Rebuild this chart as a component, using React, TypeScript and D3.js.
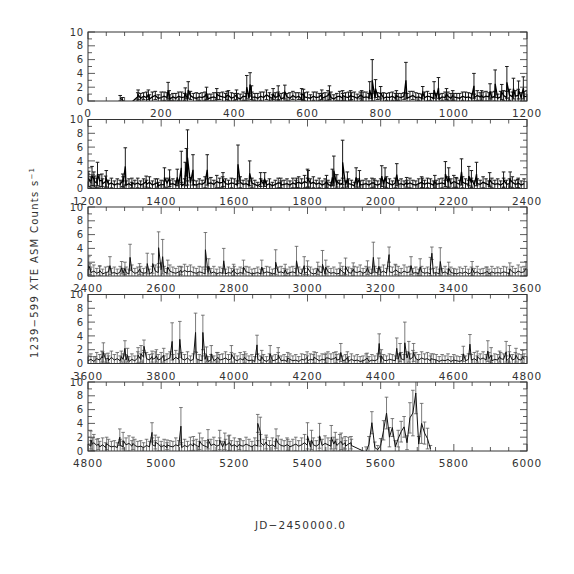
import React from "react";
import * as d3 from "d3";

// one-day ASM rates, binned every 8 days, in tenths of counts/s
const STEP = 8;

const panelStarts = [0, 1200, 2400, 3600, 4800];
const yTicks = [0, 2, 4, 6, 8, 10];

// panel 1 (JD 0-1200)
const p1Early = [[88, 4, 4], [94, 2, 3], [106, -8, 5]];
const p1Rate = [
  6,4,7,5,3,6,8,4,5,7, 5,3,6,4,7,5,6,3,8,5, 4,6,5,7,3,5,6,4,7,6, 5,8,4,6,5,3,7,6,4,5,
  6,4,7,5,9,6,4,5,7,3, 5,6,4,8,5,7,3,6,5,4, 7,5,6,4,6,8,5,3,6,7, 4,6,5,7,6,4,8,5,6,5,
  3,6,7,5,4,6,5,7,4,6, 5,7,4,6,8,5,6,4,5,7, 6,4,5,3,6,5,7,4,6,5, 4,7,5,6,4,5,8,6,5,7,
  6,5,7,4,6,8,5,9,6,7, 8,5,6,7,
];
const p1Err = [
  6,7,5,8,6,7,6,5,8,6, 7,6,5,7,6,8,5,7,6,6, 8,5,7,6,7,5,6,8,5,7, 6,7,8,5,6,7,6,5,7,8,
  5,7,6,8,7,6,5,7,6,8, 7,5,8,6,7,5,7,6,8,5, 6,8,5,7,6,7,8,6,5,7, 7,6,8,5,7,6,5,8,7,6,
  8,7,5,6,8,5,7,6,7,5, 6,5,7,8,6,7,5,6,8,7, 5,7,6,7,5,8,6,7,5,6, 7,6,8,6,7,5,7,6,8,7,
  6,8,7,6,8,7,9,8,7,8, 9,7,8,8,
];
const p1Spikes = [
  [137,9,7],[165,9,7],[219,15,12],[222,8,7],[266,11,8],[274,16,12],[324,11,9],[352,10,8],
  [380,8,6],[406,9,7],[434,20,17],[443,24,17],[447,12,10],[506,10,8],[520,12,10],[538,13,10],
  [584,10,8],[589,9,8],[639,9,7],[660,12,10],[696,8,7],[718,8,7],[748,8,7],[770,16,12],
  [777,30,30],[786,18,13],[800,12,9],[843,8,7],[869,30,26],[915,12,9],[946,16,12],[958,19,15],
  [980,10,8],[997,8,7],[1055,22,18],[1076,8,7],[1099,14,11],[1113,25,20],[1131,13,11],
  [1145,27,23],[1163,18,15],[1177,16,13],[1190,19,16],
];

// panel 2 (JD 1200-2400)
const p2Rate = [
  12,9,14,8,11,7,10,6,8,5, 7,6,9,5,7,4,6,8,5,7, 6,9,5,7,4,6,5,8,6,7, 5,6,4,7,5,8,6,5,7,6,
  9,7,8,6,10,8,9,7,6,8, 7,5,9,6,7,5,8,6,4,7, 6,5,7,4,6,8,5,6,7,5, 8,6,9,7,10,8,7,9,6,8,
  5,7,6,4,7,5,6,8,5,7, 6,4,7,5,6,7,5,8,6,5, 7,6,9,7,5,8,6,7,5,6, 8,6,5,7,9,6,8,7,5,6,
  7,8,6,9,7,10,8,6,9,7, 6,8,5,7,6,9,7,5,8,6, 7,5,8,6,7,9,6,8,5,7,
];
const p2Err = [
  9,8,10,7,9,7,8,6,7,6, 7,6,8,6,7,5,6,7,6,7, 6,8,6,7,5,6,6,7,6,7, 6,6,5,7,6,8,6,6,7,6,
  8,7,8,6,9,7,8,7,6,7, 7,6,8,6,7,6,7,6,5,7, 6,6,7,5,6,7,6,6,7,6, 7,6,8,7,9,7,7,8,6,7,
  6,7,6,5,7,6,6,7,6,7, 6,5,7,6,6,7,6,7,6,6, 7,6,8,7,6,7,6,7,6,6, 7,6,6,7,8,6,7,7,6,6,
  7,7,6,8,7,9,7,6,8,7, 6,7,6,7,6,8,7,6,7,6, 7,6,7,6,7,8,6,7,6,7,
];
const p2Spikes = [
  [1202,14,11],[1211,18,14],[1218,10,8],[1226,21,17],[1238,12,9],[1250,14,12],[1295,12,9],
  [1302,32,27],[1320,8,7],[1359,10,8],[1390,8,6],[1409,16,14],[1423,15,12],[1444,16,12],
  [1455,30,24],[1466,21,17],[1469,38,20],[1472,45,40],[1487,27,22],[1526,27,22],[1569,13,10],
  [1610,35,28],[1642,22,18],[1672,13,10],[1683,13,10],[1727,8,7],[1770,8,7],[1800,15,13],
  [1802,14,12],[1852,10,9],[1868,16,12],[1872,26,21],[1880,11,9],[1896,38,32],[1909,13,11],
  [1933,16,14],[1942,14,12],[1982,8,6],[2003,18,15],[2012,16,14],[2044,20,16],[2071,9,7],
  [2114,8,7],[2148,10,9],[2177,21,18],[2186,16,14],[2206,9,7],[2221,24,19],[2241,18,14],
  [2248,14,12],[2262,21,17],[2298,13,10],[2336,13,11],[2354,13,11],[2375,7,6],
];

// panel 3 (JD 2400-3600)
const p3Rate = [
  8,5,7,4,6,3,5,6,4,5, 3,6,4,5,3,7,4,5,6,4, 5,3,6,7,5,9,6,4,7,5, 4,6,5,8,6,7,5,4,6,5,
  3,5,4,6,3,5,4,3,5,4, 6,3,5,4,6,5,3,4,5,3, 4,6,5,3,4,5,6,4,3,5, 6,4,5,3,4,6,5,3,4,6,
  5,3,6,4,5,3,4,6,3,5, 4,6,5,7,4,6,5,3,6,4, 5,7,4,6,5,8,6,4,7,5, 6,4,5,3,6,4,5,3,4,5,
  3,4,6,3,5,4,3,5,4,6, 3,5,4,6,3,4,5,3,6,4, 5,4,6,5,3,6,4,7,5,6,
];
const p3Err = [
  9,8,9,7,8,7,8,8,7,8, 7,8,7,8,7,9,7,8,8,7, 8,7,8,9,8,10,8,7,9,8, 7,8,8,9,8,9,8,7,8,8,
  7,8,7,8,7,8,7,7,8,7, 8,7,8,7,8,8,7,7,8,7, 7,8,8,7,7,8,8,7,7,8, 8,7,8,7,7,8,8,7,7,8,
  8,7,8,7,8,7,7,8,7,8, 7,8,8,9,7,8,8,7,8,7, 8,9,7,8,8,9,8,7,9,8, 8,7,8,7,8,7,8,7,7,8,
  7,7,8,7,8,7,7,8,7,8, 7,8,7,8,7,7,8,7,8,7, 8,7,8,8,7,8,7,9,8,8,
];
const p3Spikes = [
  [2402,15,13],[2406,10,8],[2432,8,7],[2460,15,13],[2492,12,9],[2501,11,9],[2515,27,19],
  [2541,10,8],[2562,18,15],[2577,18,14],[2593,41,23],[2604,28,25],[2618,13,10],[2654,8,6],
  [2721,38,25],[2730,14,11],[2771,22,18],[2798,9,8],[2825,13,10],[2875,13,10],[2913,20,18],
  [2939,9,8],[2970,22,21],[2991,15,13],[3000,12,10],[3028,11,9],[3041,17,20],[3050,13,10],
  [3089,10,9],[3104,14,12],[3125,10,9],[3164,12,10],[3180,27,22],[3195,14,12],[3223,31,11],
  [3241,9,7],[3283,15,13],[3308,13,12],[3336,14,13],[3340,33,9],[3363,21,20],[3386,11,9],
  [3450,11,10],[3491,7,6],[3553,10,9],[3597,11,10],
];

// panel 4 (JD 3600-4800)
const p4Rate = [
  4,6,3,7,5,8,6,4,9,5, 7,4,6,5,3,6,4,8,6,9, 7,5,6,8,5,7,4,6,8,5, 9,6,7,5,8,4,6,7,5,4,
  6,3,5,4,7,5,6,8,5,7, 6,4,7,5,6,4,5,3,6,4, 5,3,6,4,5,7,4,5,3,6, 4,5,3,6,5,4,6,5,7,4,
  6,5,8,6,7,5,6,4,5,3, 6,4,5,3,4,6,3,5,4,6, 3,5,4,6,5,4,6,7,5,8, 6,9,7,5,8,6,7,4,6,5,
  3,5,4,6,3,5,4,3,5,4, 6,5,7,4,6,8,5,7,4,6, 5,7,6,4,8,5,7,6,5,6,
];
const p4Err = [
  8,8,7,9,8,9,8,7,9,8, 9,7,8,8,7,8,7,9,8,10, 9,8,8,9,8,9,7,8,9,8, 10,8,9,8,9,7,8,9,8,7,
  8,7,8,7,9,8,8,9,8,9, 8,7,9,8,8,7,8,7,8,7, 8,7,8,7,8,9,7,8,7,8, 7,8,7,8,8,7,8,8,9,7,
  8,8,9,8,9,8,8,7,8,7, 8,7,8,7,7,8,7,8,7,8, 7,8,7,8,8,7,8,9,8,9, 8,10,9,8,9,8,9,7,8,8,
  7,8,7,8,7,8,7,7,8,7, 8,8,9,7,8,9,8,9,7,8, 8,9,8,7,9,8,9,8,8,8,
];
const p4Spikes = [
  [3620,5,5],[3638,10,8],[3642,16,14],[3655,8,7],[3691,10,8],[3701,22,11],[3708,12,10],
  [3737,12,11],[3745,14,12],[3753,25,9],[3775,10,8],[3787,11,9],[3807,12,10],[3830,32,27],
  [3851,35,26],[3894,45,28],[3914,45,25],[3924,13,11],[3937,14,12],[3955,9,7],[3992,14,12],
  [4028,9,8],[4062,27,14],[4075,10,9],[4098,14,12],[4120,12,11],[4146,8,8],[4199,9,8],
  [4218,9,8],[4250,8,7],[4278,9,8],[4291,16,13],[4309,9,8],[4363,8,7],[4396,29,14],
  [4402,11,9],[4444,22,15],[4453,16,13],[4466,30,30],[4477,17,15],[4490,16,13],[4538,7,7],
  [4626,14,11],[4644,28,14],[4664,10,8],[4693,18,15],[4702,12,11],[4725,10,8],[4743,17,15],
  [4752,14,12],[4770,12,10],[4788,10,9],
];

// panel 5 (JD 4800-6000), gap near 5540, ends ~5736
const p5aRate = [
  10,7,12,8,6,9,5,8,6,7, 5,8,6,9,11,7,8,6,7,5, 8,6,9,7,10,6,8,5,7,6, 9,7,5,8,6,10,7,8,6,9,
  7,5,8,10,7,9,6,8,11,7, 9,6,8,7,10,8,6,9,7,12, 8,10,7,9,6,11,8,7,9,6, 8,10,7,9,12,8,6,9,7,10,
  8,11,9,7,10,8,12,9,7,10, 8,
];
const p5aErr = [
  10,8,12,9,8,10,7,9,8,8, 7,9,8,10,11,8,9,8,8,7, 9,8,10,8,10,8,9,7,8,8, 10,8,7,9,8,10,8,9,8,10,
  8,7,9,10,8,10,8,9,11,8, 10,8,9,8,10,9,8,10,8,12, 9,10,8,10,8,11,9,8,10,8, 9,10,8,10,12,9,8,10,8,10,
  9,11,10,8,10,9,12,10,8,10, 9,
];
const p5bRate = [-2,10,41,5,2,8,30,55,20,34,6,18,28,35,12,48,55,84,10,40,26,18,3];
const p5bErr = [8,11,16,8,6,10,14,23,14,13,9,12,15,15,10,22,33,30,11,29,16,15,5];
const p5Spikes = [
  [4808,16,13],[4812,10,9],[4828,10,8],[4851,11,9],[4887,20,12],[4896,15,12],[4923,11,9],
  [4975,27,14],[4984,13,10],[5016,9,7],[5054,36,27],[5088,11,10],[5105,14,12],[5128,17,14],
  [5160,16,14],[5174,14,12],[5187,12,11],[5214,10,8],[5264,40,13],[5271,28,21],[5287,13,10],
  [5314,18,14],[5346,9,8],[5400,22,19],[5411,16,14],[5433,22,18],[5465,20,17],[5476,15,12],
  [5492,14,12],[5503,12,9],[5519,12,9],
];

type Pt = { day: number; rate: number; err: number };
const fromGrid = (start: number, rates: number[], errs: number[]): Pt[] =>
  rates.map((r, i) => ({ day: start + i * STEP, rate: r / 10, err: (errs[i] ?? 7) / 10 }));
const fromList = (list: number[][]): Pt[] =>
  list.map(([d, r, e]) => ({ day: d, rate: r / 10, err: e / 10 }));
const sortPts = (pts: Pt[]) => pts.sort((a, b) => a.day - b.day);

const series: Pt[][] = [
  sortPts([...fromList(p1Early), ...fromGrid(136, p1Rate, p1Err), ...fromList(p1Spikes)]),
  sortPts([...fromGrid(1200, p2Rate, p2Err), ...fromList(p2Spikes)]),
  sortPts([...fromGrid(2400, p3Rate, p3Err), ...fromList(p3Spikes)]),
  sortPts([...fromGrid(3600, p4Rate, p4Err), ...fromList(p4Spikes)]),
  sortPts([...fromGrid(4800, p5aRate, p5aErr), ...fromList(p5Spikes), ...fromGrid(5560, p5bRate, p5bErr)]),
];

const W = 574;
const X0 = 88;
const X1 = 527;
const TOP0 = 32;
const PH = 69;
const GAP = 87.5;
const CAP = 1.8;
const font = "'DejaVu Sans', sans-serif";
const ink = "#333";

const styles = [
  { line: "#000", lw: 1.3, err: "#1a1a1a", ew: 1.0 },
  { line: "#000", lw: 1.3, err: "#1a1a1a", ew: 1.0 },
  { line: "#111", lw: 1.0, err: "#5a5a5a", ew: 0.8 },
  { line: "#111", lw: 1.0, err: "#5a5a5a", ew: 0.8 },
  { line: "#111", lw: 1.0, err: "#5a5a5a", ew: 0.8 },
];

function Panel({ idx }: { idx: number }) {
  const start = panelStarts[idx];
  const top = TOP0 + idx * GAP;
  const x = d3.scaleLinear().domain([start, start + 1200]).range([X0, X1]);
  const y = d3.scaleLinear().domain([0, 10]).range([top + PH, top]);
  const pts = series[idx];
  const st = styles[idx];

  const line = d3.line<Pt>().x((d) => x(d.day)).y((d) => y(d.rate));

  let errD = "";
  pts.forEach((p) => {
    const px = x(p.day);
    const lo = y(p.rate - p.err);
    const hi = y(p.rate + p.err);
    errD += `M${px},${lo}V${hi}M${px - CAP},${hi}H${px + CAP}M${px - CAP},${lo}H${px + CAP}`;
  });

  const minorX = d3.range(start, start + 1201, 50);
  const majorX = d3.range(start, start + 1201, 200);
  const minorY = d3.range(0, 11, 1);
  const clipId = `clip${idx}`;

  return (
    <g>
      <clipPath id={clipId}>
        <rect x={X0} y={top} width={X1 - X0} height={PH} />
      </clipPath>
      <g clipPath={`url(#${clipId})`}>
        <path d={errD} fill="none" stroke={st.err} strokeWidth={st.ew} />
        <path d={line(pts) ?? ""} fill="none" stroke={st.line} strokeWidth={st.lw} />
      </g>
      <rect x={X0} y={top} width={X1 - X0} height={PH} fill="none" stroke={ink} strokeWidth={1} />
      {minorX.map((v) => {
        const len = v % 200 === 0 ? 7 : 4;
        return (
          <g key={`x${v}`} stroke={ink} strokeWidth={0.8}>
            <line x1={x(v)} x2={x(v)} y1={top + PH} y2={top + PH - len} />
            <line x1={x(v)} x2={x(v)} y1={top} y2={top + len} />
          </g>
        );
      })}
      {minorY.map((v) => {
        const len = v % 2 === 0 ? 7 : 4;
        return (
          <g key={`y${v}`} stroke={ink} strokeWidth={0.8}>
            <line x1={X0} x2={X0 + len} y1={y(v)} y2={y(v)} />
            <line x1={X1} x2={X1 - len} y1={y(v)} y2={y(v)} />
          </g>
        );
      })}
      {majorX.map((v) => (
        <text key={`xl${v}`} x={x(v)} y={top + PH + 16} textAnchor="middle" fontFamily={font}
          fontSize={10.5} letterSpacing={0.8} fill={ink}>
          {v}
        </text>
      ))}
      {yTicks.map((v) => (
        <text key={`yl${v}`} x={X0 - 4} y={y(v)} dy="0.36em" textAnchor="end" fontFamily={font}
          fontSize={10} letterSpacing={0.8} fill={ink}>
          {v}
        </text>
      ))}
    </g>
  );
}

export default function App() {
  return (
    <svg width={W} height={W} style={{ position: "absolute", left: 0, top: 0, background: "#fff" }}>
      <rect width={W} height={W} fill="#fff" />
      {panelStarts.map((_, i) => (
        <Panel key={i} idx={i} />
      ))}
      <text transform="translate(38,263) rotate(-90)" textAnchor="middle" fontFamily={font}
        fontSize={10} fill={ink} textLength={190} lengthAdjust="spacing">
        1239−599 XTE ASM Counts s<tspan dy={-4} fontSize={7}>−1</tspan>
      </text>
      <text x={300} y={529} textAnchor="middle" fontFamily={font} fontSize={10.5} fill={ink}
        textLength={90} lengthAdjust="spacing">
        JD−2450000.0
      </text>
    </svg>
  );
}
